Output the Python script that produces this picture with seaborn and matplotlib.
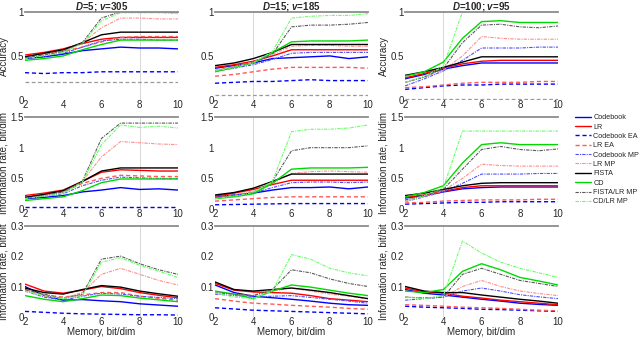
import seaborn as sns
import matplotlib.pyplot as plt
import pandas as pd

MEMORY = [2, 3, 4, 5, 6, 7, 8, 9, 10]
SERIES = ["Codebook", "LR", "Codebook EA", "LR EA", "Codebook MP", "LR MP",
          "FISTA", "CD", "FISTA/LR MP", "CD/LR MP"]
D_VALUES = [5, 15, 100]
V_VALUES = [305, 185, 95]
CHANCE = [0.2, 0.06, 0.01]
MARK_X = [8, 4, 4]

# accuracy, one dict per D
ACC_D5 = {
    "Codebook": [0.47, 0.49, 0.52, 0.56, 0.58, 0.60, 0.59, 0.59, 0.58],
    "LR": [0.51, 0.54, 0.58, 0.64, 0.69, 0.71, 0.71, 0.71, 0.71],
    "Codebook EA": [0.31, 0.30, 0.31, 0.31, 0.32, 0.32, 0.32, 0.32, 0.32],
    "LR EA": [0.50, 0.52, 0.55, 0.60, 0.66, 0.71, 0.72, 0.72, 0.72],
    "Codebook MP": [0.48, 0.50, 0.53, 0.60, 0.67, 0.69, 0.69, 0.68, 0.68],
    "LR MP": [0.50, 0.52, 0.56, 0.65, 0.82, 0.93, 0.93, 0.92, 0.92],
    "FISTA": [0.49, 0.53, 0.57, 0.65, 0.74, 0.77, 0.77, 0.77, 0.77],
    "CD": [0.45, 0.47, 0.50, 0.57, 0.63, 0.68, 0.68, 0.68, 0.68],
    "FISTA/LR MP": [0.48, 0.51, 0.55, 0.65, 0.93, 1.00, 1.00, 1.00, 0.99],
    "CD/LR MP": [0.47, 0.50, 0.54, 0.64, 0.90, 0.99, 0.99, 0.99, 0.98],
}
ACC_D15 = {
    "Codebook": [0.36, 0.39, 0.42, 0.47, 0.48, 0.49, 0.50, 0.47, 0.49],
    "LR": [0.37, 0.40, 0.44, 0.50, 0.57, 0.57, 0.57, 0.57, 0.57],
    "Codebook EA": [0.19, 0.20, 0.21, 0.21, 0.22, 0.23, 0.22, 0.22, 0.22],
    "LR EA": [0.27, 0.29, 0.32, 0.35, 0.37, 0.37, 0.37, 0.37, 0.36],
    "Codebook MP": [0.33, 0.36, 0.40, 0.46, 0.53, 0.54, 0.54, 0.54, 0.54],
    "LR MP": [0.34, 0.38, 0.43, 0.52, 0.61, 0.62, 0.62, 0.61, 0.61],
    "FISTA": [0.39, 0.42, 0.47, 0.54, 0.63, 0.63, 0.63, 0.63, 0.63],
    "CD": [0.32, 0.37, 0.42, 0.54, 0.66, 0.67, 0.67, 0.67, 0.68],
    "FISTA/LR MP": [0.33, 0.37, 0.42, 0.52, 0.83, 0.85, 0.85, 0.86, 0.88],
    "CD/LR MP": [0.33, 0.37, 0.42, 0.55, 0.93, 0.95, 0.96, 0.96, 0.98],
}
ACC_D100 = {
    "Codebook": [0.24, 0.29, 0.35, 0.39, 0.42, 0.42, 0.42, 0.42, 0.42],
    "LR": [0.25, 0.30, 0.36, 0.41, 0.44, 0.45, 0.45, 0.45, 0.45],
    "Codebook EA": [0.12, 0.14, 0.16, 0.17, 0.17, 0.18, 0.18, 0.18, 0.18],
    "LR EA": [0.14, 0.15, 0.17, 0.19, 0.20, 0.20, 0.20, 0.21, 0.21],
    "Codebook MP": [0.16, 0.24, 0.33, 0.45, 0.59, 0.59, 0.59, 0.60, 0.60],
    "LR MP": [0.20, 0.26, 0.34, 0.50, 0.72, 0.70, 0.69, 0.69, 0.69],
    "FISTA": [0.28, 0.32, 0.37, 0.43, 0.49, 0.49, 0.49, 0.49, 0.49],
    "CD": [0.27, 0.32, 0.43, 0.70, 0.89, 0.90, 0.88, 0.88, 0.88],
    "FISTA/LR MP": [0.20, 0.26, 0.36, 0.65, 0.85, 0.86, 0.83, 0.82, 0.84],
    "CD/LR MP": [0.20, 0.27, 0.38, 1.00, 1.00, 1.00, 1.00, 1.00, 1.00],
}

# information rate, bit/dim
RATE_D5 = {
    "Codebook": [0.17, 0.19, 0.22, 0.28, 0.31, 0.35, 0.32, 0.33, 0.31],
    "LR": [0.22, 0.26, 0.31, 0.45, 0.60, 0.64, 0.63, 0.62, 0.62],
    "Codebook EA": [0.04, 0.04, 0.04, 0.04, 0.04, 0.04, 0.04, 0.04, 0.04],
    "LR EA": [0.20, 0.24, 0.28, 0.42, 0.50, 0.55, 0.54, 0.53, 0.53],
    "Codebook MP": [0.18, 0.21, 0.25, 0.38, 0.47, 0.52, 0.51, 0.50, 0.50],
    "LR MP": [0.19, 0.23, 0.28, 0.45, 0.85, 1.10, 1.08, 1.06, 1.05],
    "FISTA": [0.19, 0.24, 0.30, 0.45, 0.62, 0.67, 0.67, 0.67, 0.67],
    "CD": [0.14, 0.17, 0.20, 0.30, 0.43, 0.49, 0.49, 0.49, 0.49],
    "FISTA/LR MP": [0.18, 0.22, 0.28, 0.45, 1.15, 1.40, 1.40, 1.40, 1.40],
    "CD/LR MP": [0.17, 0.21, 0.26, 0.44, 1.05, 1.37, 1.33, 1.35, 1.32],
}
RATE_D15 = {
    "Codebook": [0.20, 0.23, 0.26, 0.31, 0.35, 0.35, 0.36, 0.33, 0.36],
    "LR": [0.21, 0.26, 0.32, 0.40, 0.47, 0.47, 0.47, 0.47, 0.47],
    "Codebook EA": [0.07, 0.075, 0.08, 0.085, 0.09, 0.09, 0.09, 0.09, 0.09],
    "LR EA": [0.13, 0.15, 0.17, 0.19, 0.20, 0.20, 0.20, 0.20, 0.20],
    "Codebook MP": [0.18, 0.21, 0.26, 0.35, 0.43, 0.44, 0.44, 0.43, 0.44],
    "LR MP": [0.19, 0.23, 0.29, 0.42, 0.58, 0.61, 0.62, 0.61, 0.60],
    "FISTA": [0.23, 0.27, 0.34, 0.45, 0.57, 0.57, 0.57, 0.57, 0.57],
    "CD": [0.17, 0.20, 0.25, 0.42, 0.65, 0.67, 0.67, 0.67, 0.68],
    "FISTA/LR MP": [0.18, 0.22, 0.27, 0.45, 0.95, 1.00, 1.00, 1.00, 1.03],
    "CD/LR MP": [0.17, 0.21, 0.27, 0.45, 1.26, 1.30, 1.30, 1.32, 1.37],
}
RATE_D100 = {
    "Codebook": [0.18, 0.22, 0.28, 0.33, 0.35, 0.36, 0.36, 0.36, 0.36],
    "LR": [0.19, 0.23, 0.29, 0.35, 0.38, 0.38, 0.38, 0.38, 0.38],
    "Codebook EA": [0.08, 0.09, 0.10, 0.11, 0.11, 0.12, 0.12, 0.12, 0.12],
    "LR EA": [0.10, 0.11, 0.13, 0.14, 0.15, 0.15, 0.15, 0.16, 0.16],
    "Codebook MP": [0.12, 0.20, 0.28, 0.42, 0.57, 0.57, 0.57, 0.58, 0.58],
    "LR MP": [0.14, 0.21, 0.30, 0.50, 0.73, 0.71, 0.70, 0.70, 0.70],
    "FISTA": [0.22, 0.26, 0.32, 0.38, 0.42, 0.43, 0.43, 0.43, 0.43],
    "CD": [0.20, 0.27, 0.38, 0.75, 1.05, 1.08, 1.05, 1.05, 1.05],
    "FISTA/LR MP": [0.15, 0.22, 0.32, 0.65, 0.97, 1.02, 0.97, 0.95, 0.98],
    "CD/LR MP": [0.12, 0.22, 0.35, 1.27, 1.27, 1.27, 1.27, 1.27, 1.27],
}

# information rate, bit/bit
BPB_D5 = {
    "Codebook": [0.100, 0.070, 0.055, 0.057, 0.053, 0.050, 0.043, 0.039, 0.035],
    "LR": [0.108, 0.085, 0.078, 0.088, 0.100, 0.093, 0.080, 0.071, 0.063],
    "Codebook EA": [0.018, 0.015, 0.012, 0.010, 0.009, 0.008, 0.007, 0.007, 0.006],
    "LR EA": [0.090, 0.072, 0.065, 0.072, 0.080, 0.080, 0.068, 0.061, 0.055],
    "Codebook MP": [0.085, 0.065, 0.055, 0.068, 0.078, 0.075, 0.068, 0.064, 0.060],
    "LR MP": [0.088, 0.068, 0.062, 0.080, 0.140, 0.160, 0.140, 0.120, 0.105],
    "FISTA": [0.095, 0.080, 0.075, 0.090, 0.103, 0.098, 0.085, 0.076, 0.068],
    "CD": [0.070, 0.058, 0.050, 0.060, 0.072, 0.070, 0.062, 0.056, 0.050],
    "FISTA/LR MP": [0.090, 0.075, 0.060, 0.075, 0.190, 0.200, 0.175, 0.155, 0.140],
    "CD/LR MP": [0.085, 0.070, 0.060, 0.070, 0.180, 0.195, 0.170, 0.150, 0.130],
}
BPB_D15 = {
    "Codebook": [0.105, 0.080, 0.068, 0.063, 0.058, 0.052, 0.045, 0.040, 0.038],
    "LR": [0.110, 0.088, 0.082, 0.080, 0.078, 0.070, 0.060, 0.055, 0.050],
    "Codebook EA": [0.030, 0.026, 0.022, 0.020, 0.018, 0.016, 0.014, 0.012, 0.010],
    "LR EA": [0.060, 0.052, 0.045, 0.042, 0.038, 0.035, 0.032, 0.028, 0.025],
    "Codebook MP": [0.075, 0.070, 0.065, 0.068, 0.070, 0.064, 0.058, 0.052, 0.045],
    "LR MP": [0.080, 0.075, 0.070, 0.085, 0.095, 0.085, 0.075, 0.068, 0.060],
    "FISTA": [0.115, 0.090, 0.085, 0.090, 0.095, 0.088, 0.080, 0.070, 0.060],
    "CD": [0.085, 0.075, 0.060, 0.085, 0.105, 0.098, 0.088, 0.078, 0.070],
    "FISTA/LR MP": [0.080, 0.075, 0.070, 0.090, 0.155, 0.145, 0.125, 0.110, 0.100],
    "CD/LR MP": [0.080, 0.065, 0.060, 0.085, 0.205, 0.190, 0.160, 0.145, 0.135],
}
BPB_D100 = {
    "Codebook": [0.090, 0.078, 0.072, 0.065, 0.058, 0.052, 0.045, 0.041, 0.038],
    "LR": [0.095, 0.082, 0.078, 0.068, 0.062, 0.055, 0.050, 0.045, 0.040],
    "Codebook EA": [0.035, 0.032, 0.030, 0.028, 0.025, 0.024, 0.022, 0.020, 0.018],
    "LR EA": [0.040, 0.038, 0.035, 0.032, 0.030, 0.028, 0.025, 0.022, 0.020],
    "Codebook MP": [0.055, 0.060, 0.065, 0.085, 0.095, 0.085, 0.073, 0.066, 0.060],
    "LR MP": [0.065, 0.063, 0.065, 0.100, 0.120, 0.100, 0.085, 0.077, 0.070],
    "FISTA": [0.100, 0.085, 0.080, 0.080, 0.072, 0.065, 0.058, 0.052, 0.045],
    "CD": [0.085, 0.080, 0.090, 0.150, 0.175, 0.155, 0.130, 0.118, 0.105],
    "FISTA/LR MP": [0.065, 0.062, 0.065, 0.140, 0.160, 0.140, 0.120, 0.110, 0.100],
    "CD/LR MP": [0.065, 0.060, 0.070, 0.250, 0.210, 0.180, 0.160, 0.145, 0.130],
}

ROWS = [
    {"ylabel": "Accuracy", "ylim": (0, 1), "yticks": [0, 0.5, 1],
     "ticklabels": ["0", "0.5", "1"], "data": [ACC_D5, ACC_D15, ACC_D100]},
    {"ylabel": "Information rate, bit/dim", "ylim": (0, 1.5), "yticks": [0, 0.5, 1, 1.5],
     "ticklabels": ["0", "0.5", "1", "1.5"], "data": [RATE_D5, RATE_D15, RATE_D100]},
    {"ylabel": "Information rate, bit/bit", "ylim": (0, 0.3), "yticks": [0, 0.1, 0.2, 0.3],
     "ticklabels": ["0", "0.1", "0.2", "0.3"], "data": [BPB_D5, BPB_D15, BPB_D100]},
]

MP_DASH = (0, (3, 1, 1, 1))
STYLES = {
    "Codebook": dict(color=(0, 0, 1), linestyle="-", linewidth=1.0),
    "LR": dict(color=(1, 0, 0), linestyle="-", linewidth=1.0),
    "Codebook EA": dict(color=(0, 0, 1), linestyle=(0, (3, 2)), linewidth=1.0),
    "LR EA": dict(color=(1, 0.35, 0.35), linestyle=(0, (3, 2)), linewidth=1.0),
    "Codebook MP": dict(color=(0.3, 0.3, 1), linestyle=MP_DASH, linewidth=0.8),
    "LR MP": dict(color=(1, 0.55, 0.55), linestyle=MP_DASH, linewidth=0.8),
    "FISTA": dict(color=(0, 0, 0), linestyle="-", linewidth=1.0),
    "CD": dict(color=(0, 0.85, 0), linestyle="-", linewidth=1.0),
    "FISTA/LR MP": dict(color=(0.35, 0.35, 0.35), linestyle=MP_DASH, linewidth=0.8),
    "CD/LR MP": dict(color=(0.4, 1, 0.4), linestyle=MP_DASH, linewidth=0.8),
}

sns.set_style("white")
plt.rcParams["font.family"] = ["Liberation Sans", "DejaVu Sans"]
plt.rcParams["mathtext.fontset"] = "custom"
plt.rcParams["mathtext.it"] = "Liberation Sans:bold:italic"
plt.rcParams["mathtext.rm"] = "Liberation Sans:bold"

FS = 7
fig = plt.figure(figsize=(6.4, 3.4), dpi=100)
col_left = [0.039, 0.336, 0.633]
col_w = 0.239
row_pos = [(0.706, 0.259), (0.385, 0.271), (0.068, 0.268)]

for r, row in enumerate(ROWS):
    for c in range(3):
        bottom, height = row_pos[r]
        ax = fig.add_axes([col_left[c], bottom, col_w, height])
        panel = row["data"][c]
        df = pd.DataFrame({"memory": MEMORY * len(SERIES),
                           "value": sum((panel[s] for s in SERIES), []),
                           "method": [s for s in SERIES for _ in MEMORY]})
        ax.axvline(MARK_X[c], color="0.82", linewidth=0.6, zorder=0)
        if r == 0:
            ax.axhline(CHANCE[c], color="0.6", linestyle=(0, (3, 2)), linewidth=0.9)
        for s in SERIES:
            sns.lineplot(data=df[df["method"] == s], x="memory", y="value",
                         ax=ax, label=s if (r == 0 and c == 0) else None,
                         legend=False, **STYLES[s])
        ax.set_xlim(2, 10)
        ax.set_ylim(*row["ylim"])
        ax.set_xticks([2, 4, 6, 8, 10])
        ax.set_yticks(row["yticks"])
        ax.set_yticklabels(row["ticklabels"])
        ax.tick_params(labelsize=FS, length=0, pad=1)
        ax.tick_params(axis="x", pad=0)
        for side in ["left", "right", "bottom"]:
            ax.spines[side].set_visible(False)
        ax.spines["top"].set_color("0.55")
        ax.spines["top"].set_linewidth(1.3)
        ax.set_xlabel("Memory, bit/dim" if r == 2 else "", fontsize=FS, labelpad=0)
        ax.set_ylabel(row["ylabel"] if c != 1 else "", fontsize=FS, labelpad=1)
        if r == 0:
            ax.set_title(f"$D$={D_VALUES[c]}; $v$={V_VALUES[c]}",
                         fontsize=FS, fontweight="bold", pad=1.5)

handles, labels = fig.axes[0].get_legend_handles_labels()
fig.legend(handles, labels, loc="upper left", bbox_to_anchor=(0.893, 0.675),
           fontsize=5.2, frameon=False, handlelength=2.2, handletextpad=0.3,
           labelspacing=0.32, borderpad=0)

fig.savefig("out.png", dpi=100)
